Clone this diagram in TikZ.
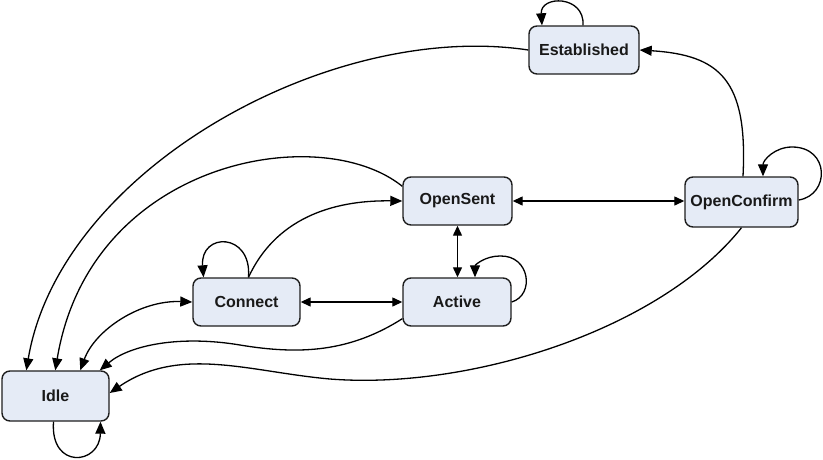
\documentclass[tikz,border=0pt]{standalone}
\usepackage{fontspec}
\setmainfont{Liberation Sans}
\usetikzlibrary{arrows.meta,calc}
\definecolor{boxfill}{RGB}{229,235,246}
\definecolor{boxline}{RGB}{30,30,30}
\definecolor{txt}{RGB}{25,25,25}
\begin{document}
\begin{tikzpicture}[x=1pt,y=-1pt,
  state/.style={draw=boxline,fill=boxfill,line width=1.4pt,rounded corners=8pt,
    minimum height=48pt,inner sep=0pt,text=txt,
    font=\fontsize{16}{19}\selectfont\bfseries},
  conn/.style={line width=1.3pt,draw=black,-{Triangle[length=12pt,width=10pt]}},
  both/.style={line width=1.3pt,draw=black,{Triangle[length=10pt,width=9pt]}-{Triangle[length=10pt,width=9pt]}}]
\useasboundingbox (0,0) rectangle (823,459);
% nodes
\node[state,minimum width=110pt] (est) at (584,50) {Established};
\node[state,minimum width=109pt] (osent) at (457.5,201) {OpenSent};
\node[state,minimum width=113pt,minimum height=50pt] (oconf) at (741.5,202) {OpenConfirm};
\node[state,minimum width=107pt] (cn) at (246.5,302) {Connect};
\node[state,minimum width=108pt] (act) at (457,302) {Active};
\node[state,minimum width=107pt,minimum height=50pt] (idle) at (55.5,396) {Idle};
% Established -> Idle
\draw[conn] (est.west) .. controls (330,20) and (60,170) .. ($(idle.north west)+(25,0)$);
% OpenSent -> Idle
\draw[conn] ($(osent.north west)+(0,10)$) .. controls (320,120) and (90,160) .. ($(idle.north west)+(54,0)$);
% Connect <-> Idle
\draw[conn,{Triangle[length=12pt,width=10pt]}-{Triangle[length=12pt,width=10pt]}] (cn.west) .. controls (140,300) and (95,330) .. ($(idle.north west)+(79,0)$);
% Active -> Idle
\draw[conn] ($(act.south west)+(0,-8)$) .. controls (350,352) and (300,355) .. (240,345)
  .. controls (180,335) and (130,345) .. ($(idle.north east)+(-10,0)$);
% OpenConfirm -> Idle
\draw[conn] (oconf.south) .. controls (660,330) and (470,390) .. (330,379)
  .. controls (250,372) and (180,345) .. ($(idle.east)+(0,-3)$);
% Idle self loop
\draw[conn] ($(idle.south)+(-2,0)$) .. controls (50,470) and (100,465) .. ($(idle.south)+(45,0)$);
% Established self loop
\draw[conn] ($(est.north)+(-1,0)$) .. controls (585,-5) and (540,-5) .. ($(est.north)+(-42,0)$);
% OpenConfirm -> Established
\draw[conn] ($(oconf.north)+(1.5,0)$) .. controls (748,80) and (720,55) .. (est.east);
% OpenConfirm self loop
\draw[conn] ($(oconf.east)+(0,-2)$) .. controls (830,195) and (830,147) .. (792,147)
  .. controls (775,147) and (763,160) .. ($(oconf.north)+(21.5,0)$);
% OpenSent <-> OpenConfirm
\draw[both] (osent.east) -- (osent.east -| oconf.west);
% Connect -> OpenSent
\draw[conn] ($(cn.north)+(2,0)$) .. controls (275,220) and (330,200) .. (osent.west);
% Connect self loop
\draw[conn] ($(cn.north)+(2,0)$) .. controls (252,232) and (200,232) .. ($(cn.north)+(-43,0)$);
% OpenSent <-> Active
\draw[both] (osent.south) -- (osent.south |- act.north);
% Active self loop
\draw[conn] (act.east) .. controls (535,295) and (530,255) .. (500,256)
  .. controls (485,256) and (475,265) .. ($(act.north)+(18,0)$);
% Connect <-> Active
\draw[both] (cn.east) -- (act.west);
\end{tikzpicture}
\end{document}
